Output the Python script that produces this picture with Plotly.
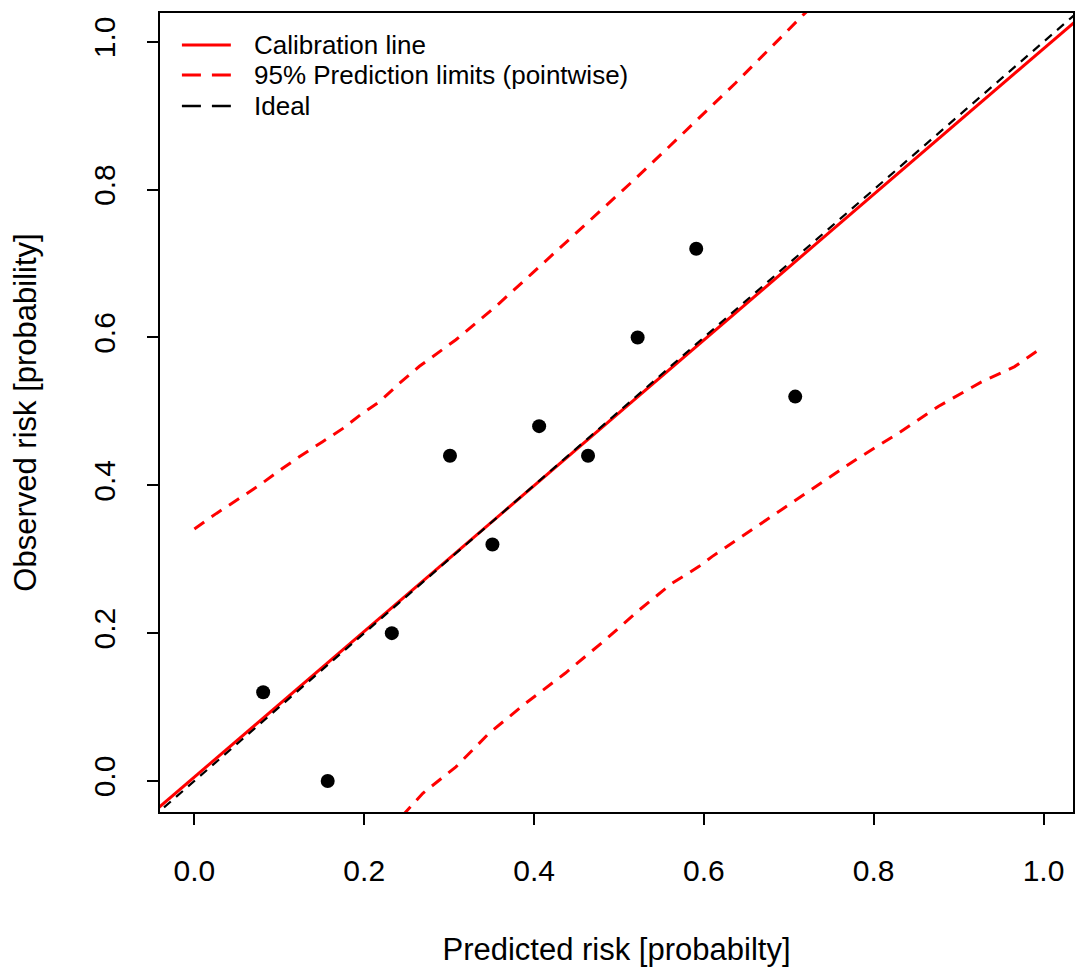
import plotly.graph_objects as go

# observed groups
pred_x = [0.081, 0.157, 0.2325, 0.301, 0.351, 0.406, 0.4636, 0.522, 0.591, 0.7076]
obs_y = [0.12, 0.00, 0.20, 0.44, 0.32, 0.48, 0.44, 0.60, 0.72, 0.52]

# calibration line (end points)
cal_x = [-0.05, 1.05]
cal_y = [-0.044, 1.040]

# ideal line
ideal_x = [-0.05, 1.05]
ideal_y = [-0.05, 1.05]

# 95% prediction limits (pointwise)
upper_x = [0.0, 0.026, 0.05, 0.077, 0.104, 0.124, 0.151, 0.175, 0.198, 0.218, 0.2415,
           0.265, 0.308, 0.355, 0.398, 0.441, 0.48, 0.52, 0.559, 0.598, 0.637, 0.676,
           0.717, 0.75]
upper_y = [0.341, 0.362, 0.380, 0.4005, 0.423, 0.439, 0.459, 0.477, 0.4975, 0.513, 0.538,
           0.561, 0.597, 0.642, 0.687, 0.732, 0.773, 0.8155, 0.858, 0.901, 0.944, 0.989,
           1.0365, 1.072]
lower_x = [0.245, 0.269, 0.308, 0.347, 0.390, 0.437, 0.484, 0.5235, 0.5626, 0.594, 0.6096,
           0.633, 0.6566, 0.680, 0.7076, 0.731, 0.778, 0.829, 0.876, 0.927, 0.966, 0.9916]
lower_y = [-0.047, -0.0166, 0.019, 0.0645, 0.105, 0.146, 0.191, 0.231, 0.2675, 0.290, 0.3035,
           0.3216, 0.3397, 0.3576, 0.380, 0.398, 0.434, 0.4705, 0.5066, 0.540, 0.5606, 0.581]

tick_vals = [0, 0.2, 0.4, 0.6, 0.8, 1.0]
tick_text = ["0.0", "0.2", "0.4", "0.6", "0.8", "1.0"]

legend_labels = ["Calibration line", "95% Prediction limits (pointwise)", "Ideal"]

RED = "#FF0000"
FONT = "Liberation Sans, Arial, sans-serif"
RED_DASH = "12px,9px"
BLACK_DASH = "9px,7px"

fig = go.Figure()
fig.add_trace(go.Scatter(x=cal_x, y=cal_y, mode="lines", name=legend_labels[0],
                         showlegend=False, line=dict(color=RED, width=3)))
fig.add_trace(go.Scatter(x=upper_x, y=upper_y, mode="lines", name=legend_labels[1],
                         showlegend=False, line=dict(color=RED, width=3, dash=RED_DASH)))
fig.add_trace(go.Scatter(x=lower_x, y=lower_y, mode="lines", name=legend_labels[1],
                         showlegend=False, line=dict(color=RED, width=3, dash=RED_DASH)))
fig.add_trace(go.Scatter(x=ideal_x, y=ideal_y, mode="lines", name=legend_labels[2],
                         showlegend=False, line=dict(color="black", width=2.2, dash=BLACK_DASH)))
fig.add_trace(go.Scatter(x=pred_x, y=obs_y, mode="markers", name="Groups",
                         showlegend=False, marker=dict(color="black", size=14)))

# legend drawn in the top-left corner of the plotting region
legend_styles = [dict(color=RED, width=3, dash="solid"),
                 dict(color=RED, width=3, dash="19px,11px"),
                 dict(color="black", width=2.5, dash="19px,11px")]
legend_rows = [0.960, 0.9224, 0.8836]
for lab, sty, yy in zip(legend_labels, legend_styles, legend_rows):
    fig.add_shape(type="line", xref="x domain", yref="y domain",
                  x0=0.024, x1=0.0776, y0=yy, y1=yy, line=sty)
    fig.add_annotation(xref="x domain", yref="y domain", x=0.1005, y=yy,
                       xanchor="left", yanchor="middle", text=lab, showarrow=False,
                       font=dict(size=26, color="black", family=FONT))

axis_common = dict(showline=True, mirror=True, linecolor="black", linewidth=2,
                   ticks="outside", ticklen=11, tickwidth=2, tickcolor="black",
                   showgrid=False, zeroline=False, tickvals=tick_vals, ticktext=tick_text,
                   tickfont=dict(size=30, color="black", family=FONT),
                   ticklabelstandoff=20)

fig.update_layout(
    width=1076, height=968,
    margin=dict(l=160, r=1, t=13, b=156),
    plot_bgcolor="white", paper_bgcolor="white",
    font=dict(family=FONT, color="black"),
    showlegend=False,
    xaxis=dict(range=[-0.0405, 1.0347],
               title=dict(text="Predicted risk [probabilty]", font=dict(size=31), standoff=52),
               **axis_common),
    yaxis=dict(range=[-0.042, 1.039], tickangle=-90,
               title=dict(text="Observed risk [probability]", font=dict(size=31), standoff=42),
               **axis_common),
)

fig.write_html("out.html")
